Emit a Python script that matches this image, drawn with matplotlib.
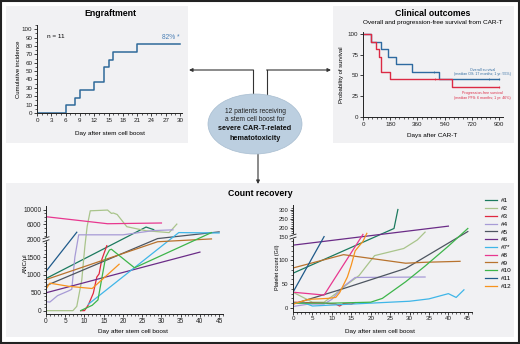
import numpy as np
import matplotlib
matplotlib.use("Agg")
import matplotlib.pyplot as plt
from matplotlib.patches import Rectangle, Ellipse
from matplotlib.ticker import FixedLocator, MultipleLocator

plt.rcParams['font.family'] = ['Liberation Sans', 'DejaVu Sans']

W, H = 520, 344

# ---------------- data ----------------
# Engraftment (cumulative incidence, %)
eng_days = [0, 6, 8, 9, 12, 14, 15, 16, 21, 30]
eng_inc = [0, 9.1, 18.2, 27.3, 36.4, 54.5, 63.6, 72.7, 81.8, 81.8]

# Clinical outcomes (probability of survival, %)
os_days = [0, 55, 117, 166, 217, 327, 502, 900]
os_prob = [100, 90.9, 81.8, 72.7, 63.6, 54.5, 45.5, 45.5]
pfs_days = [0, 55, 88, 106, 117, 177, 590, 900]
pfs_prob = [100, 90.9, 81.8, 72.7, 54.5, 45.5, 36.4, 36.4]
os_cens_days = [471, 830, 900]
os_cens_prob = [54.5, 45.5, 45.5]
pfs_cens_days = [476, 900]
pfs_cens_prob = [45.5, 36.4]

patients = ["#1", "#2", "#3", "#4", "#5", "#6", "#7*", "#8", "#9", "#10", "#11", "#12"]
colors = ["#1b7a5e", "#a9c48b", "#e0283f", "#a79bd6", "#4d5560", "#6b2c87",
          "#3fb6e8", "#e8378f", "#b8732e", "#3db54a", "#1f5a8a", "#f7931e"]

# ANC per patient: (days, values /µl)
anc_days = [
    [0, 26, 28],
    [0, 7, 8, 9.3, 10.1, 10.7, 11.5, 16, 17, 17.5, 18.5, 21, 26, 32, 34],
    [9, 10, 11, 12.3, 13.2, 13.8, 14.5, 15.8],
    [0, 1, 3, 6, 6.7, 7.5, 8.5, 20, 28, 33],
    [0, 29, 45],
    [0, 40],
    [11, 34.5, 45],
    [0, 16, 30],
    [0, 29, 43],
    [9, 12, 13.5, 14.5, 15.5, 16.5, 17, 23, 43],
    [0, 8],
    [0, 1, 6, 12, 19],
]
anc_vals = [
    [900, 5300, 4600],
    [0, 0, 120, 860, 1800, 5500, 9700, 9900, 9000, 9100, 8700, 5400, 4300, 3800, 6100],
    [0, 0, 160, 490, 940, 1030, 1430, 1820],
    [250, 240, 420, 560, 600, 1500, 3200, 3200, 4350, 4550],
    [700, 2180, 4000],
    [500, 1640],
    [180, 3800, 3700],
    [8100, 6200, 6400],
    [870, 1930, 2090],
    [0, 150, 300, 900, 1500, 1700, 1720, 1200, 3800],
    [1100, 3900],
    [600, 770, 680, 620, 1300],
]

# Platelets per patient: (days, G/l)
plt_days = [
    [0, 26, 27],
    [0, 5, 8, 11, 14, 17, 21, 28.5, 32, 34],
    [0, 8, 11, 12, 13, 15, 16],
    [0, 4, 8, 10, 13, 16, 34],
    [0, 12, 29, 45],
    [0, 40],
    [0, 3, 5, 10, 15, 20, 30, 35, 40, 42, 44],
    [0, 8, 18],
    [0, 13, 29, 34, 43],
    [0, 10, 20, 23, 29, 34, 40, 45],
    [0, 8],
    [0, 4, 9, 11, 12, 14, 15, 16, 18, 19],
]
plt_vals = [
    [73, 195, 300],
    [33, 12, 12, 30, 50, 68, 110, 125, 143, 175],
    [12, 10, 8, 4, 9, 8, 11],
    [3, 8, 8, 18, 45, 64, 65],
    [8, 38, 83, 178],
    [132, 208],
    [10, 10, 4, 6, 8, 10, 14, 19, 30, 22, 38],
    [33, 27, 162],
    [84, 112, 94, 96, 98],
    [10, 10, 12, 20, 55, 88, 130, 195],
    [33, 150],
    [8, 18, 20, 22, 32, 65, 90, 120, 140, 168],
]


def rect(x0, y0, x1, y1):
    return [x0 / W, 1 - y1 / H, (x1 - x0) / W, (y1 - y0) / H]


def broken(b, k):
    fwd = lambda y: np.where(np.asarray(y) <= b, y, b + (np.asarray(y) - b) * k)
    inv = lambda y: np.where(np.asarray(y) <= b, y, b + (np.asarray(y) - b) / k)
    return fwd, inv


def style(ax, fs=4.5):
    for s in ['top', 'right']:
        ax.spines[s].set_visible(False)
    for s in ['left', 'bottom']:
        ax.spines[s].set_linewidth(0.7)
        ax.spines[s].set_color('#222222')
    ax.set_facecolor('none')
    ax.tick_params(which='major', length=2, width=0.6, labelsize=fs, pad=1.3, colors='#222222')
    ax.tick_params(which='minor', length=1.2, width=0.5, colors='#222222')


fig = plt.figure(figsize=(W / 100, H / 100), dpi=100)

# background layer in pixel coords
bg = fig.add_axes([0, 0, 1, 1])
bg.set_xlim(0, W)
bg.set_ylim(H, 0)
bg.axis('off')
panel = '#f1f1f3'
bg.add_patch(Rectangle((6, 6), 182, 137, color=panel, lw=0))
bg.add_patch(Rectangle((333, 6), 181, 137, color=panel, lw=0))
bg.add_patch(Rectangle((6, 183), 508, 154, color=panel, lw=0))
bg.add_patch(Rectangle((0.8, 0.8), W - 1.6, H - 1.6, fill=False, ec='#222222', lw=1.5))

# arrows
ac = '#333333'
bg.plot([253, 253], [100, 70], color=ac, lw=0.8)
bg.plot([267, 267], [100, 70], color=ac, lw=0.8)
bg.annotate('', xy=(189, 70), xytext=(253.4, 70),
            arrowprops=dict(arrowstyle='-|>', color=ac, lw=0.8, mutation_scale=5, shrinkA=0, shrinkB=0))
bg.annotate('', xy=(331, 70), xytext=(266.6, 70),
            arrowprops=dict(arrowstyle='-|>', color=ac, lw=0.8, mutation_scale=5, shrinkA=0, shrinkB=0))
bg.annotate('', xy=(258, 184), xytext=(258, 150),
            arrowprops=dict(arrowstyle='-|>', color=ac, lw=0.8, mutation_scale=5, shrinkA=0, shrinkB=0))
bg.add_patch(Ellipse((255, 124), 94, 60, fc='#bccfe0', ec='#a8bdd0', lw=0.5, zorder=3))
bg.text(255, 111.5, "12 patients receiving", ha='center', va='center', fontsize=4.8, color='#222222', zorder=4)
bg.text(255, 119.5, "a stem cell boost for", ha='center', va='center', fontsize=4.8, color='#222222', zorder=4)
bg.text(255, 129, "severe CAR-T-related", ha='center', va='center', fontsize=5.2, weight='bold', color='#111111', zorder=4)
bg.text(255, 138, "hematotoxicity", ha='center', va='center', fontsize=5.2, weight='bold', color='#111111', zorder=4)

# titles and labels
bg.text(110, 14, "Engraftment", ha='center', va='center', fontsize=6.3, weight='bold')
bg.text(110, 134, "Day after stem cell boost", ha='center', va='center', fontsize=4.6)
bg.text(19, 69, "Cumulative incidence", ha='center', va='center', fontsize=4.3, rotation=90)
bg.text(433, 14, "Clinical outcomes", ha='center', va='center', fontsize=6.3, weight='bold')
bg.text(433, 22.5, "Overall and progression-free survival from CAR-T", ha='center', va='center', fontsize=4.6)
bg.text(432, 135, "Days after CAR-T", ha='center', va='center', fontsize=4.6)
bg.text(341, 75, "Probability of survival", ha='center', va='center', fontsize=4.3, rotation=90)
bg.text(260, 194, "Count recovery", ha='center', va='center', fontsize=6.3, weight='bold')
bg.text(133, 332, "Day after stem cell boost", ha='center', va='center', fontsize=4.6)
bg.text(380, 331, "Day after stem cell boost", ha='center', va='center', fontsize=4.6)
bg.text(25, 263, "ANC/\u03bcl", ha='center', va='center', fontsize=4.4, rotation=90)
bg.text(277, 267, "Platelet count (G/l)", ha='center', va='center', fontsize=4.0, rotation=90)

# ---------------- engraftment ----------------
ax1 = fig.add_axes(rect(37, 25, 182, 113))
style(ax1)
ax1.step(eng_days, eng_inc, where='post', color='#2f6a9a', lw=1.1)
ax1.set_xlim(0, 30.4)
ax1.set_ylim(0, 105)
ax1.set_xticks(range(0, 31, 3))
ax1.set_yticks(range(0, 101, 10))
ax1.xaxis.set_minor_locator(MultipleLocator(1))
ax1.yaxis.set_minor_locator(MultipleLocator(5))
ax1.text(2, 91, "n = 11", fontsize=4.6, va='center')
ax1.text(30, 90, "82% *", fontsize=4.8, color='#4a7fb5', ha='right', va='center')

# ---------------- clinical outcomes ----------------
ax2 = fig.add_axes(rect(363, 31.5, 503, 117))
style(ax2)
ax2.step(os_days, os_prob, where='post', color='#2e6aa0', lw=1.0)
ax2.step(pfs_days, pfs_prob, where='post', color='#dc2a44', lw=1.0)
ax2.plot(os_cens_days, os_cens_prob, '|', color='#2e6aa0', ms=2, mew=0.5)
ax2.plot(pfs_cens_days, pfs_cens_prob, '|', color='#dc2a44', ms=2, mew=0.5)
ax2.set_xlim(0, 925)
ax2.set_ylim(0, 103)
ax2.set_xticks(range(0, 901, 180))
ax2.set_yticks(range(0, 101, 25))
ax2.xaxis.set_minor_locator(MultipleLocator(30))
ax2.text(790, 54, "Overall survival\n(median OS: 17 months; 1 yr: 55%)", fontsize=2.6,
         color='#2e6aa0', ha='center', va='center', linespacing=1.2)
ax2.text(790, 26, "Progression-free survival\n(median PFS: 6 months; 1 yr: 46%)", fontsize=2.6,
         color='#dc2a44', ha='center', va='center', linespacing=1.2)

# ---------------- ANC ----------------
ax3 = fig.add_axes(rect(46, 206, 223, 313.5))
style(ax3, fs=4.7)
ax3.set_yscale('function', functions=broken(2000, 0.1035))
for d, v, c in zip(anc_days, anc_vals, colors):
    ax3.plot(d, v, color=c, lw=0.9)
ax3.set_xlim(0, 46)
ax3.set_ylim(-80, 11000)
ax3.set_xticks(range(0, 46, 5))
ax3.xaxis.set_minor_locator(MultipleLocator(1))
ax3.yaxis.set_major_locator(FixedLocator([0, 500, 1000, 1500, 2000, 6000, 10000]))
ax3.yaxis.set_minor_locator(FixedLocator(list(range(0, 2000, 100)) + list(range(3000, 11000, 1000))))

# ---------------- platelets ----------------
ax4 = fig.add_axes(rect(293, 205, 471.7, 311.7))
style(ax4)
ax4.set_yscale('function', functions=broken(150, 0.38))
lines = []
for d, v, c, p in zip(plt_days, plt_vals, colors, patients):
    ln, = ax4.plot(d, v, color=c, lw=0.9, label=p)
    lines.append(ln)
ax4.set_xlim(0, 46)
ax4.set_ylim(-8, 325)
ax4.set_xticks(range(0, 46, 5))
ax4.xaxis.set_minor_locator(MultipleLocator(1))
ax4.yaxis.set_major_locator(FixedLocator([0, 50, 100, 150, 200, 250, 300]))
ax4.yaxis.set_minor_locator(FixedLocator(list(range(0, 320, 10))))
ax4.tick_params(axis='y', labelsize=4.2)
ax4.legend(handles=lines, loc='upper left', bbox_to_anchor=(485 / W, 1 - 198 / H),
           bbox_transform=fig.transFigure, frameon=False, fontsize=4.6,
           handlelength=1.8, handletextpad=0.7, labelspacing=0.36, borderpad=0, borderaxespad=0)

# axis break marks
for ax, xb, yb in [(ax3, 46, 239.3), (ax4, 293, 236.6)]:
    ax.fill([xb - 3, xb + 3, xb + 3, xb - 3], [yb - 0.5, yb - 2.5, yb + 0.5, yb + 2.5],
            color=panel, transform=bg.transData, clip_on=False, zorder=5)
    for dy in (-1.5, 1.5):
        ax.plot([xb - 3, xb + 3], [yb + dy + 1, yb + dy - 1], color='#222222', lw=0.6,
                transform=bg.transData, clip_on=False, zorder=6)

fig.savefig("out.png", dpi=100)
